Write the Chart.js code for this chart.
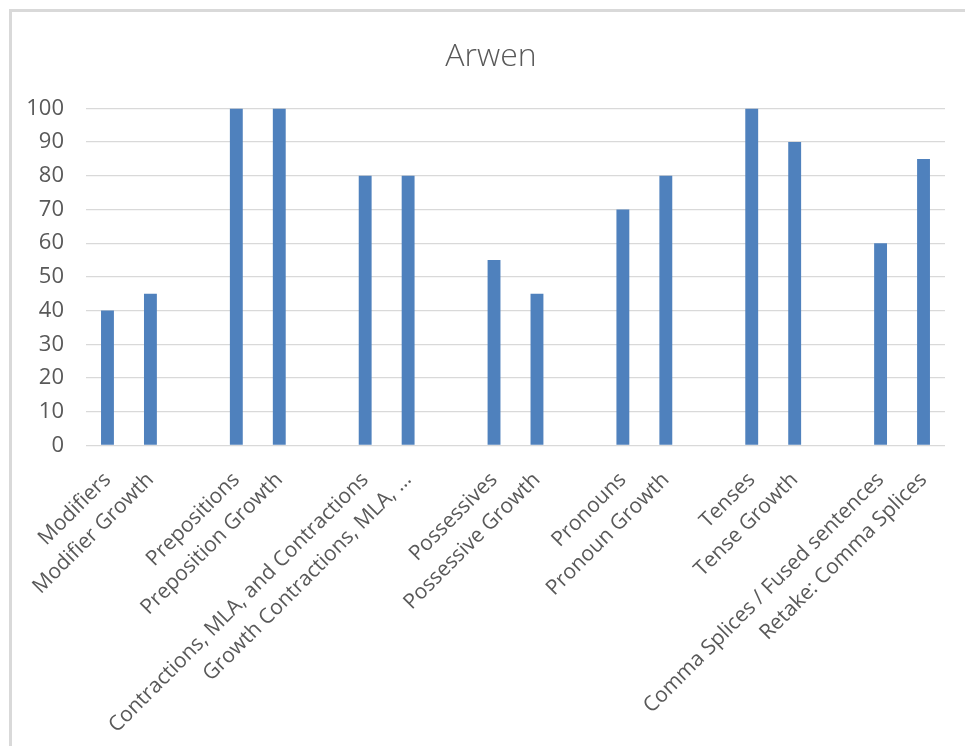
<!DOCTYPE html>
<html>
<head>
<meta charset="utf-8">
<title>Arwen</title>
<script src="https://cdn.jsdelivr.net/npm/chart.js@4/dist/chart.umd.min.js"></script>
<style>
  html, body { margin: 0; padding: 0; background: #ffffff; }
  #wrap { position: relative; width: 965px; height: 746px; overflow: hidden; }
  #frame {
    position: absolute; left: 9px; top: 9px; right: -10px; bottom: -10px;
    border-top: 3px solid #d9d9d9; border-left: 3px solid #d9d9d9;
    pointer-events: none;
  }
  canvas { position: absolute; left: 0; top: 0; }
</style>
</head>
<body>
<div id="wrap">
  <canvas id="chart" width="965" height="746"></canvas>
  <div id="frame"></div>
</div>
<script>
// Skill areas, paired with their growth retakes; '' leaves a gap between pairs
const categories = [
  'Modifiers', 'Modifier Growth', '',
  'Prepositions', 'Preposition Growth', '',
  'Contractions, MLA, and Contractions', 'Growth Contractions, MLA, \u2026', '',
  'Possessives', 'Possessive Growth', '',
  'Pronouns', 'Pronoun Growth', '',
  'Tenses', 'Tense Growth', '',
  'Comma Splices / Fused sentences', 'Retake: Comma Splices'
];

// Scores for each category (null for the gaps)
const scores = [
  40, 45, null,
  100, 100, null,
  80, 80, null,
  55, 45, null,
  70, 80, null,
  100, 90, null,
  60, 85
];

const yMin = 0;
const yMax = 100;
const yStep = 10;

const textColor = '#595959';
const gridColor = '#d9d9d9';
const barColor = '#4f81bd';
const fontFamily = '"Open Sans", "Liberation Sans", sans-serif';

new Chart(document.getElementById('chart'), {
  type: 'bar',
  data: {
    labels: categories,
    datasets: [{
      label: 'Arwen',
      data: scores,
      backgroundColor: barColor,
      borderWidth: 0,
      categoryPercentage: 1.0,
      barPercentage: 0.3
    }]
  },
  options: {
    responsive: false,
    animation: false,
    layout: { padding: { left: 28, right: 11, top: 0, bottom: -6 } },
    plugins: {
      legend: { display: false },
      tooltip: { enabled: false },
      title: {
        display: true,
        text: 'Arwen',
        color: textColor,
        font: { family: fontFamily, size: 32, weight: '300' },
        padding: { top: 38, bottom: 32 }
      }
    },
    scales: {
      x: {
        grid: { display: false },
        border: { display: false },
        // the slanted first label has room on the left already;
        // keep a right-hand gap after the last category
        afterFit(scale) {
          scale.paddingLeft = 0;
          scale.paddingRight = 20;
        },
        ticks: {
          color: textColor,
          font: { family: fontFamily, size: 21 },
          autoSkip: false,
          minRotation: 45,
          maxRotation: 45,
          padding: 14
        }
      },
      y: {
        min: yMin,
        max: yMax,
        grid: { color: gridColor, lineWidth: 1.3, drawTicks: false },
        border: { display: false },
        afterFit(scale) { scale.width = 58; },
        ticks: {
          stepSize: yStep,
          color: textColor,
          font: { family: fontFamily, size: 22 },
          padding: 22
        }
      }
    }
  }
});
</script>
</body>
</html>
